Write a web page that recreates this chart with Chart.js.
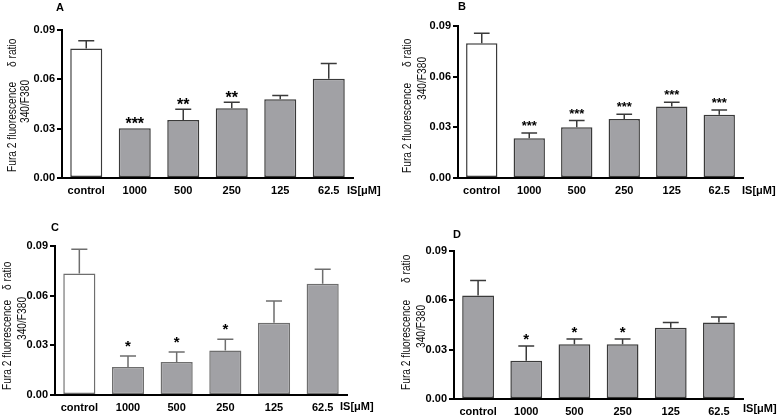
<!DOCTYPE html>
<html lang="en">
<head>
<meta charset="UTF-8">
<title>Fura 2 fluorescence</title>
<style>
  body { margin: 0; background: #fff; }
  #wrap { position: relative; width: 780px; height: 417px; overflow: hidden; background: #fff; }
  #wrap canvas { position: absolute; }
</style>
</head>
<body>
<div id="wrap">
  <canvas id="chartA" width="390" height="208" style="left:0px;top:0px"></canvas>
  <canvas id="chartB" width="390" height="208" style="left:390px;top:0px"></canvas>
  <canvas id="chartC" width="390" height="209" style="left:0px;top:208px"></canvas>
  <canvas id="chartD" width="390" height="209" style="left:390px;top:208px"></canvas>
</div>
<script src="https://cdn.jsdelivr.net/npm/chart.js@4.4.1/dist/chart.umd.min.js"></script>
<script>
// data
const categories = ['control', '1000', '500', '250', '125', '62.5'];
const yTicks = [0, 0.03, 0.06, 0.09];

const meanA = [0.0787, 0.0302, 0.0353, 0.0424, 0.0479, 0.0604];
const semA  = [0.0048, 0, 0.0065, 0.0037, 0.0022, 0.0092];
const starsA = ['', '***', '**', '**', '', ''];

const meanB = [0.0798, 0.0236, 0.0301, 0.0350, 0.0423, 0.0374];
const semB  = [0.0059, 0.0030, 0.0039, 0.0028, 0.0026, 0.0028];
const starsB = ['', '***', '***', '***', '***', '***'];

const meanC = [0.0734, 0.0169, 0.0199, 0.0269, 0.0437, 0.0672];
const semC  = [0.0146, 0.0067, 0.0061, 0.0067, 0.0131, 0.0087];
const starsC = ['', '*', '*', '*', '', ''];

const meanD = [0.0629, 0.0233, 0.0333, 0.0333, 0.0434, 0.0465];
const semD  = [0.0091, 0.0089, 0.0032, 0.0032, 0.0031, 0.0034];
const starsD = ['', '*', '*', '*', '', ''];

const GRAY = '#a1a1a5';
const FONT = '"Liberation Sans", Arial, sans-serif';

// layout of each panel (canvas-local pixels)
const panels = [
  { id: 'chartA', letter: 'A', mean: meanA, sem: semA, stars: starsA,
    controlFill: '#fff', edge: '#3a3a3a', err: '#3a3a3a', starFont: 'bold 16px', starLift: -1,
    w: 390, h: 208, area: { left: 62, top: 30, right: 353, bottom: 178 },
    letterAt: [60, 8], isAt: [347, 191],
    title: { x1: 13, fura: 172, delta: 67, x2: 26, ratio: 123 } },
  { id: 'chartB', letter: 'B', mean: meanB, sem: semB, stars: starsB,
    controlFill: '#fff', edge: '#3a3a3a', err: '#3a3a3a', starFont: 'bold 13px', starLift: 3,
    w: 390, h: 208, area: { left: 68, top: 26, right: 353, bottom: 178 },
    letterAt: [72, 7], isAt: [352, 191],
    title: { x1: 18, fura: 173, delta: 67, x2: 33, ratio: 100 } },
  { id: 'chartC', letter: 'C', mean: meanC, sem: semC, stars: starsC,
    controlFill: '#fff', edge: '#6e6e6e', err: '#6e6e6e', starFont: 'bold 15px', starLift: 5,
    w: 390, h: 209, area: { left: 55, top: 38, right: 347, bottom: 187 },
    letterAt: [55, 20], isAt: [340, 199],
    title: { x1: 8, fura: 182, delta: 82, x2: 23, ratio: 132 } },
  { id: 'chartD', letter: 'D', mean: meanD, sem: semD, stars: starsD,
    controlFill: GRAY, edge: '#3a3a3a', err: '#3a3a3a', starFont: 'bold 15px', starLift: 2,
    w: 390, h: 209, area: { left: 64, top: 43, right: 353, bottom: 191 },
    letterAt: [67, 27], isAt: [353, 201],
    title: { x1: 17, fura: 182, delta: 75, x2: 32, ratio: 140 } }
];

function vText(ctx, str, x, yStart) {
  ctx.save();
  ctx.translate(x, yStart);
  ctx.rotate(-Math.PI / 2);
  ctx.scale(0.85, 1);
  ctx.textAlign = 'left';
  ctx.textBaseline = 'middle';
  ctx.fillText(str, 0, 0);
  ctx.restore();
}

function makeDecor(p) {
  return {
    id: 'decor' + p.letter,
    afterDatasetsDraw(chart) {
      const ctx = chart.ctx;
      const y = chart.scales.y;
      const bars = chart.getDatasetMeta(0).data;
      ctx.save();
      // error bars (upper only) and significance stars
      ctx.strokeStyle = p.err;
      ctx.lineWidth = 1.5;
      ctx.fillStyle = '#000';
      ctx.font = p.starFont + ' ' + FONT;
      ctx.textAlign = 'center';
      ctx.textBaseline = 'alphabetic';
      bars.forEach((bar, i) => {
        const top = y.getPixelForValue(p.mean[i] + p.sem[i]);
        if (p.sem[i] > 0) {
          const half = bar.width / 4;
          ctx.beginPath();
          ctx.moveTo(bar.x, bar.y);
          ctx.lineTo(bar.x, top);
          ctx.moveTo(bar.x - half, top);
          ctx.lineTo(bar.x + half, top);
          ctx.stroke();
        }
        if (p.stars[i]) ctx.fillText(p.stars[i], bar.x, top - p.starLift);
      });
      // panel letter
      ctx.font = 'bold 11px ' + FONT;
      ctx.textBaseline = 'middle';
      ctx.fillText(p.letter, p.letterAt[0], p.letterAt[1]);
      // axis unit
      ctx.textAlign = 'left';
      ctx.fillText('IS[\u03bcM]', p.isAt[0], p.isAt[1]);
      // y title
      ctx.font = '12px ' + FONT;
      ctx.fillStyle = '#111';
      vText(ctx, 'Fura 2 fluorescence', p.title.x1, p.title.fura);
      vText(ctx, '\u03b4 ratio', p.title.x1, p.title.delta);
      vText(ctx, '340/F380', p.title.x2, p.title.ratio);
      ctx.restore();
    }
  };
}

panels.forEach(p => {
  const ctx = document.getElementById(p.id).getContext('2d');
  new Chart(ctx, {
    type: 'bar',
    data: {
      labels: categories,
      datasets: [{
        data: p.mean,
        backgroundColor: p.mean.map((v, i) => i === 0 ? p.controlFill : GRAY),
        borderColor: p.edge,
        borderWidth: 1.5,
        borderSkipped: false,
        barPercentage: 0.66,
        categoryPercentage: 1
      }]
    },
    options: {
      responsive: false,
      animation: false,
      devicePixelRatio: 1,
      layout: { padding: { left: 0, top: p.area.top, right: p.w - p.area.right, bottom: 0 } },
      plugins: { legend: { display: false }, tooltip: { enabled: false } },
      scales: {
        x: {
          grid: { display: false, drawTicks: false },
          border: { display: true, color: '#000', width: 2 },
          ticks: { color: '#000', padding: 6, font: { family: FONT, size: 11, weight: 'bold' } },
          afterFit: s => { s.height = p.h - p.area.bottom; }
        },
        y: {
          min: 0,
          max: 0.09,
          afterBuildTicks: s => { s.ticks = yTicks.map(v => ({ value: v })); },
          grid: { display: true, drawOnChartArea: false, drawTicks: true, tickLength: 5, color: '#000', lineWidth: 2 },
          border: { display: true, color: '#000', width: 2 },
          ticks: {
            color: '#000', padding: 2,
            font: { family: FONT, size: 11, weight: 'bold' },
            callback: v => Number(v).toFixed(2)
          },
          afterFit: s => { s.width = p.area.left; }
        }
      }
    },
    plugins: [makeDecor(p)]
  });
});
</script>
</body>
</html>
